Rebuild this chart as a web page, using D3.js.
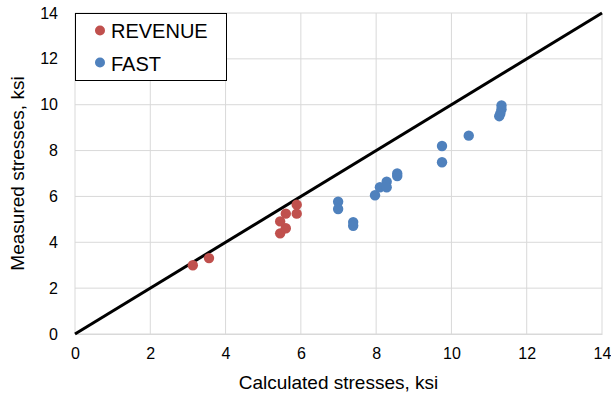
<html>
<head>
<style>
body { margin: 0; background: #fff; font-family: "Liberation Sans", Arial, sans-serif; }
.grid line { stroke: #d9d9d9; stroke-width: 1px; }
.tick text { font-size: 16px; fill: #000; }
.title { font-size: 19px; fill: #000; }
.legend text { font-size: 20px; fill: #000; }
</style>
</head>
<body>
<div class="chart"></div>
<script src="https://cdnjs.cloudflare.com/ajax/libs/d3/7.8.5/d3.min.js"></script>
<script>
var revenueX = [3.13, 3.56, 5.45, 5.60, 5.45, 5.60, 5.89, 5.89];
var revenueY = [3.00, 3.31, 4.39, 4.61, 4.91, 5.25, 5.25, 5.64];
var fastX = [6.99, 6.99, 7.39, 7.39, 7.97, 8.10, 8.28, 8.28, 8.56, 8.56, 9.75, 9.75, 10.46, 11.33, 11.33, 11.30, 11.27];
var fastY = [5.77, 5.45, 4.88, 4.72, 6.05, 6.40, 6.64, 6.40, 7.00, 6.89, 8.20, 7.49, 8.65, 9.97, 9.80, 9.62, 9.50];
var ticks = [0, 2, 4, 6, 8, 10, 12, 14];
var seriesNames = ["REVENUE", "FAST"];
var colors = ["#C0504D", "#4F81BD"];

var W = 611, H = 395;
var margin = {top: 13, right: 9, bottom: 61, left: 75};
var width = W - margin.left - margin.right,
    height = H - margin.top - margin.bottom;

var svg = d3.select(".chart").append("svg")
    .attr("width", W)
    .attr("height", H)
  .append("g")
    .attr("transform", "translate(" + margin.left + "," + margin.top + ")");

var x = d3.scaleLinear().domain([0, 14]).range([0, width]);
var y = d3.scaleLinear().domain([0, 14]).range([height, 0]);

// gridlines
var grid = svg.append("g").attr("class", "grid");
grid.selectAll(".v").data(ticks).enter().append("line")
    .attr("x1", function(d){ return x(d); }).attr("x2", function(d){ return x(d); })
    .attr("y1", 0).attr("y2", height);
grid.selectAll(".h").data(ticks).enter().append("line")
    .attr("x1", 0).attr("x2", width)
    .attr("y1", function(d){ return y(d); }).attr("y2", function(d){ return y(d); });

// axes
var xAxis = svg.append("g")
    .attr("transform", "translate(0," + height + ")")
    .call(d3.axisBottom(x).tickValues(ticks).tickSize(0).tickPadding(14));
xAxis.select(".domain").attr("stroke", "#d9d9d9");

var yAxis = svg.append("g")
    .call(d3.axisLeft(y).tickValues(ticks).tickSize(0).tickPadding(17));
yAxis.select(".domain").remove();
svg.selectAll(".tick text").attr("font-family", "Liberation Sans, Arial, sans-serif");

// 1:1 line
svg.append("line")
    .attr("x1", x(0)).attr("y1", y(0))
    .attr("x2", x(14)).attr("y2", y(14))
    .attr("stroke", "#000").attr("stroke-width", 3);

// points
var series = [
  {name: seriesNames[0], xs: revenueX, ys: revenueY, color: colors[0]},
  {name: seriesNames[1], xs: fastX, ys: fastY, color: colors[1]}
];
series.forEach(function(s){
  svg.append("g").selectAll("circle")
      .data(s.xs)
    .enter().append("circle")
      .attr("r", 5.2)
      .attr("cx", function(d){ return x(d); })
      .attr("cy", function(d, i){ return y(s.ys[i]); })
      .attr("fill", s.color);
});

// axis titles
svg.append("text").attr("class", "title")
    .attr("x", width / 2).attr("y", height + 55)
    .attr("text-anchor", "middle")
    .text("Calculated stresses, ksi");
svg.append("text").attr("class", "title")
    .attr("transform", "translate(" + (-51) + "," + (height / 2) + ") rotate(-90)")
    .attr("text-anchor", "middle")
    .text("Measured stresses, ksi");

// legend
var legend = svg.append("g").attr("class", "legend");
legend.append("rect")
    .attr("x", 0.5).attr("y", 0.5)
    .attr("width", 151).attr("height", 67)
    .attr("fill", "#fff").attr("stroke", "#000").attr("stroke-width", 1);
series.forEach(function(s, i){
  legend.append("circle")
      .attr("cx", 25).attr("cy", 17.5 + i * 32)
      .attr("r", 5).attr("fill", s.color);
  legend.append("text")
      .attr("x", 36).attr("y", 24.5 + i * 33)
      .text(s.name);
});
</script>
</body>
</html>
